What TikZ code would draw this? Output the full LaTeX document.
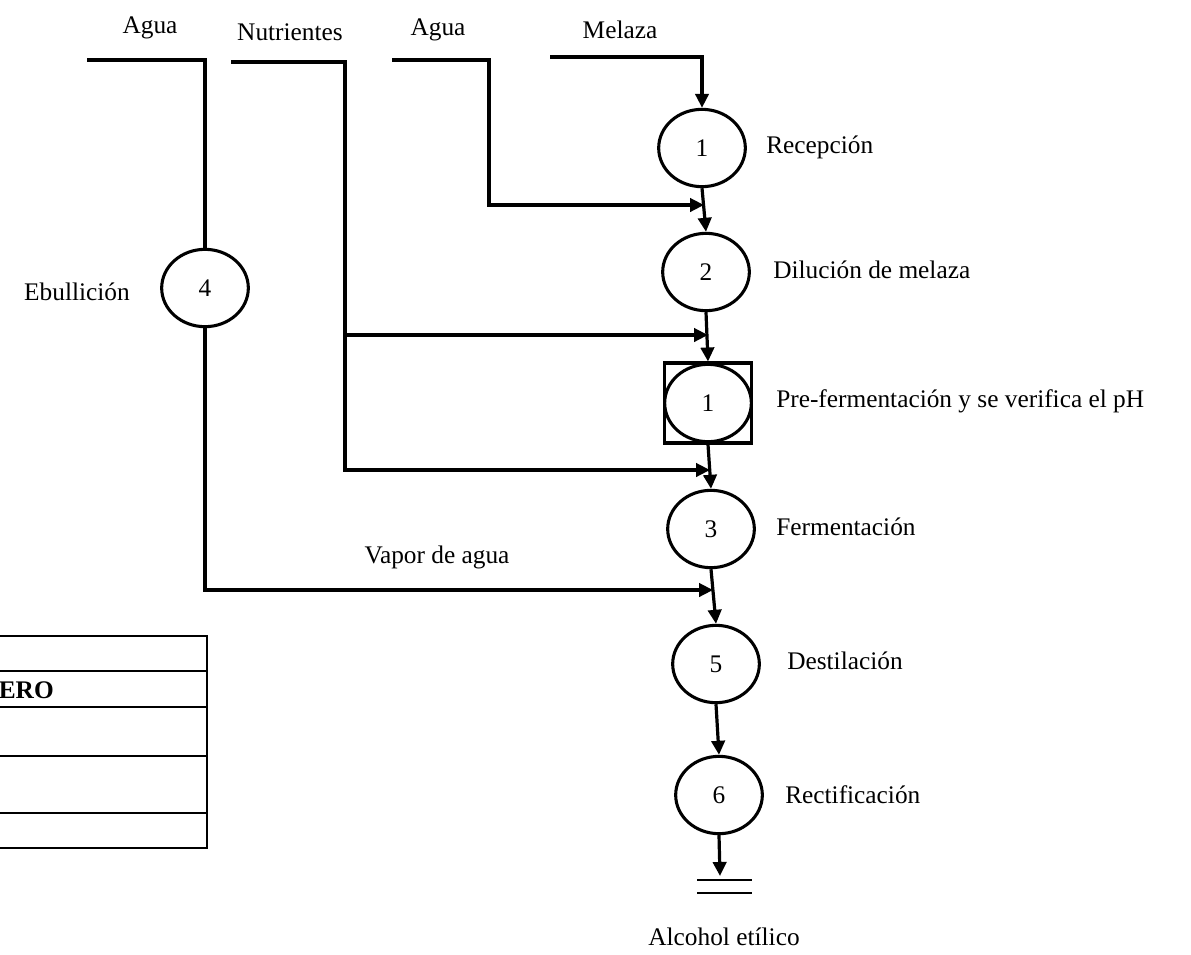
\documentclass[tikz,border=0pt]{standalone}
\usepackage{fontspec}
\setmainfont{Liberation Serif}
\usetikzlibrary{shapes.geometric,arrows.meta}
\begin{document}
\begin{tikzpicture}[x=0.75pt,y=-0.75pt,
  flow/.style={line width=2.4pt},
  arr/.style={flow,-{Triangle[length=10.5pt,width=10pt]}},
  opn/.style={ellipse,draw,line width=2.3pt,minimum width=65pt,minimum height=58pt,inner sep=0pt,font=\fontsize{19}{22}\selectfont},
  insp/.style={draw,line width=2.3pt,minimum width=65pt,minimum height=60pt,inner sep=0pt},
  lbl/.style={font=\fontsize{19}{22}\selectfont,inner sep=0pt},
  tline/.style={line width=1.8pt}]
\useasboundingbox (0,0) rectangle (1191,954);

% process operations
\node[opn] (o1) at (702,148) {1};
\node[opn] (o2) at (706,272) {2};
\node[insp] (box) at (708,403) {};
\node[opn] (pf) at (708,403) {1};
\node[opn] (o3) at (711,529) {3};
\node[opn] (o4) at (205,288) {4};
\node[opn] (o5) at (716,664) {5};
\node[opn] (o6) at (719,795) {6};

% operation labels
\node[lbl,anchor=west] (l1) at (766,147) {Recepción};
\node[lbl,anchor=west] (l2) at (773,270) {Dilución de melaza};
\node[lbl,anchor=west] (lpf) at (776,401) {Pre-fermentación y se verifica el pH};
\node[lbl,anchor=west] (l3) at (776,527) {Fermentación};
\node[lbl,anchor=west] (l5) at (787,661) {Destilación};
\node[lbl,anchor=west] (l6) at (785,795) {Rectificación};
\node[lbl] (l4) at (77,292) {Ebullición};
\node[lbl] (lv) at (437,557) {Vapor de agua};
\node[lbl] (lout) at (724,937) {Alcohol etílico};

% input labels
\node[lbl] (in1) at (150,28) {Agua};
\node[lbl] (in2) at (290,32) {Nutrientes};
\node[lbl] (in3) at (438,30) {Agua};
\node[lbl] (in4) at (620,30) {Melaza};

% inputs and junction points
\coordinate (m0) at (550,57);
\coordinate (m1) at (702,57);
\coordinate (a0) at (392,60);
\coordinate (a1) at (489,60);
\coordinate (a2) at (489,205);
\coordinate (j1) at (704,205);
\coordinate (n0) at (231,62);
\coordinate (n1) at (345,62);
\coordinate (n2) at (345,335);
\coordinate (n3) at (345,470);
\coordinate (j2) at (708,335);
\coordinate (j3) at (710,470);
\coordinate (w0) at (87,60);
\coordinate (w1) at (205,60);
\coordinate (w2) at (205,590);
\coordinate (j4) at (713,590);
\coordinate (end) at (720,876);

% main line
\draw[arr] (m0) -- (m1) -- (o1.north);
\draw[arr] (o1.south) -- (o2.north);
\draw[arr] (o2.south) -- (box.north);
\draw[arr] (box.south) -- (o3.north);
\draw[arr] (o3.south) -- (o5.north);
\draw[arr] (o5.south) -- (o6.north);
\draw[arr] (o6.south) -- (end);

% side streams
\draw[arr] (a0) -- (a1) -- (a2) -- (j1);
\draw[arr] (n0) -- (n1) -- (n3) -- (j3);
\draw[arr] (n2) -- (j2);
\draw[flow] (w0) -- (w1) -- (o4.north);
\draw[arr] (o4.south) -- (w2) -- (j4);

% product storage mark
\coordinate (s1) at (697,880);
\coordinate (s2) at (752,880);
\coordinate (s3) at (697,893);
\coordinate (s4) at (752,893);
\draw[line width=1.1pt] (s1) -- (s2);
\draw[line width=1.1pt] (s3) -- (s4);

% summary table
\coordinate (t0) at (0,636);
\coordinate (t1) at (207,636);
\coordinate (t2) at (207,848);
\draw[tline] (t0) -- (t1) -- (t2) -- (0,848);
\draw[tline] (0,671) -- (207,671);
\draw[tline] (0,707) -- (207,707);
\draw[tline] (0,756) -- (207,756);
\draw[tline] (0,813) -- (207,813);
\node[lbl,anchor=east,font=\fontsize{19}{22}\selectfont\bfseries] (tx) at (54,690) {ERO};
\end{tikzpicture}
\end{document}
